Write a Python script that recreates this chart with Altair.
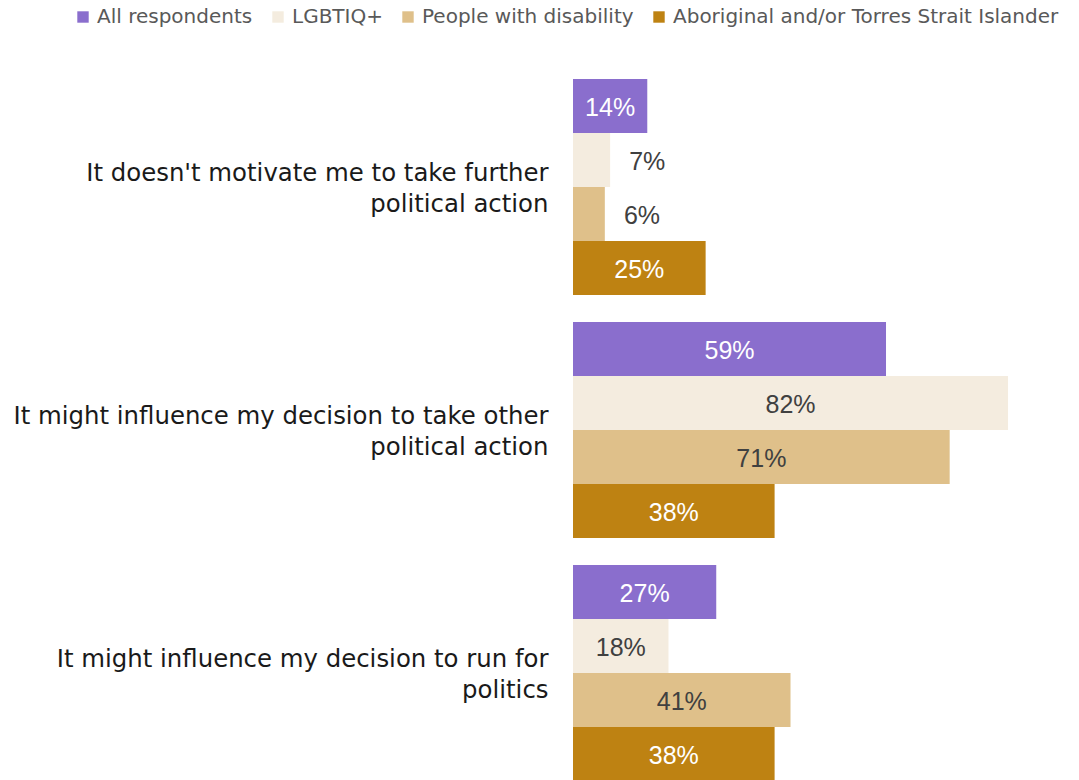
import altair as alt
import pandas as pd

categories = [
    "It doesn't motivate me to take further|political action",
    "It might influence my decision to take other|political action",
    "It might influence my decision to run for|politics",
]
groups = ["All respondents", "LGBTIQ+", "People with disability", "Aboriginal and/or Torres Strait Islander"]
colors = ["#8A6ECD", "#F4ECDF", "#DFC08A", "#BE8212"]
label_colors = ["#FFFFFF", "#404040", "#404040", "#FFFFFF"]

all_resp = [14, 59, 27]
lgbtiq = [7, 82, 18]
disability = [6, 71, 41]
aboriginal = [25, 38, 38]

series = [all_resp, lgbtiq, disability, aboriginal]
rows = []
for gi, (g, vals) in enumerate(zip(groups, series)):
    for ci, c in enumerate(categories):
        v = vals[ci]
        rows.append({
            "cat": c, "group": g, "gi": gi, "value": v,
            "pos": v / 2 if v >= 10 else v + 7,
            "label": f"{v}%", "lc": label_colors[gi],
        })
df = pd.DataFrame(rows)

FONT = "Liberation Sans"
AXFONT = "DejaVu Sans"

y_enc = alt.Y("cat:N", sort=categories, title=None,
              scale=alt.Scale(paddingInner=0.111, paddingOuter=0),
              axis=alt.Axis(labelExpr="split(datum.label, '|')", labelFontSize=24.4,
                            labelColor="#1a1a1a", labelFont=AXFONT, labelLimit=600,
                            labelPadding=25, labelLineHeight=31, labelOffset=-13,
                            domain=False, ticks=False, grid=False, labelAlign="right"))
yoff = alt.YOffset("group:N", sort=groups, scale=alt.Scale(paddingInner=0, paddingOuter=0))
x_enc = alt.X("value:Q", scale=alt.Scale(domain=[0, 95], nice=False), axis=None)

bars = alt.Chart(df).mark_bar(size=54).encode(
    y=y_enc, yOffset=yoff, x=x_enc,
    color=alt.Color("group:N", sort=groups,
                    scale=alt.Scale(domain=groups, range=colors),
                    legend=alt.Legend(title=None, orient="none", direction="horizontal",
                                      legendX=-500, legendY=-72, symbolType="square",
                                      symbolSize=130, symbolStrokeWidth=0,
                                      labelFontSize=20, labelColor="#595959",
                                      labelFont=AXFONT, columnPadding=15,
                                      symbolOffset=0, labelOffset=4, labelLimit=500)),
)

labels = alt.Chart(df).mark_text(fontSize=25, font=FONT, align="center", baseline="middle", dy=2).encode(
    y=alt.Y("cat:N", sort=categories), yOffset=alt.YOffset("group:N", sort=groups),
    x=alt.X("pos:Q"),
    text="label:N",
    color=alt.Color("lc:N", scale=None),
)

chart = alt.layer(bars, labels).properties(
    width=504, height=702,
    autosize=alt.AutoSizeParams(type="none"),
    padding={"left": 573, "top": 79, "right": 2, "bottom": 0},
).configure(background="white").configure_view(stroke=None, strokeWidth=0)

chart.save("out.html", embed_options={"renderer": "svg", "actions": False})
